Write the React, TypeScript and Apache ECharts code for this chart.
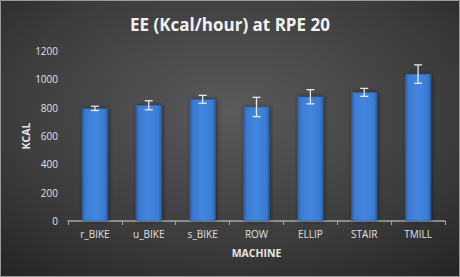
import React, { useEffect, useRef } from "react";
import * as echarts from "echarts";

const categories = ["r_BIKE", "u_BIKE", "s_BIKE", "ROW", "ELLIP", "STAIR", "TMILL"];
const values = [795, 817, 859, 805, 877, 908, 1037];
const errors = [15, 32, 28, 68, 50, 28, 65];
const yTicks = { min: 0, max: 1200, interval: 200 };

export default function App() {
  const ref = useRef<HTMLDivElement>(null);
  useEffect(() => {
    const chart = echarts.init(ref.current!, null, { renderer: "svg" });
    const font = "'Open Sans', 'Liberation Sans', sans-serif";
    chart.setOption({
      animation: false,
      backgroundColor: {
        type: "radial", x: 0.5, y: 0.4, r: 0.8,
        colorStops: [
          { offset: 0, color: "#5a5a5a" },
          { offset: 0.6, color: "#3c3c3c" },
          { offset: 1, color: "#222222" },
        ],
      },
      title: {
        text: "EE (Kcal/hour) at RPE 20",
        left: "center",
        top: 11,
        textStyle: { color: "#f2f2f2", fontSize: 17, fontWeight: "bold", fontFamily: font },
      },
      graphic: [
        {
          type: "rect",
          shape: { x: 0.5, y: 0.5, width: 459, height: 276 },
          style: { fill: "none", stroke: "#9a9a9a", lineWidth: 1 },
          silent: true,
        },
      ],
      grid: { left: 68, right: 15, top: 51, bottom: 56 },
      xAxis: {
        type: "category",
        data: categories,
        name: "MACHINE",
        nameLocation: "middle",
        nameGap: 26,
        nameTextStyle: { color: "#e6e6e6", fontSize: 10.5, fontWeight: "bold", fontFamily: font },
        axisLine: { lineStyle: { color: "#a6a6a6", width: 1.5 } },
        axisTick: { show: true, alignWithLabel: false, length: 4, inside: false, lineStyle: { color: "#a6a6a6" } },
        axisLabel: { color: "#e0e0e0", fontSize: 10, fontFamily: font, margin: 8 },
        splitLine: { show: false },
      },
      yAxis: {
        type: "value",
        min: yTicks.min,
        max: yTicks.max,
        interval: yTicks.interval,
        name: "KCAL",
        nameLocation: "middle",
        nameGap: 37,
        nameMoveOverlap: false,
        nameTextStyle: { color: "#e6e6e6", fontSize: 10.5, fontWeight: "bold", fontFamily: font },
        axisLine: { show: false },
        axisTick: { show: false },
        axisLabel: { color: "#e0e0e0", fontSize: 10, fontFamily: font, margin: 10, formatter: (v: number) => String(v) },
        splitLine: { show: false },
      },
      series: [
        {
          type: "bar",
          data: values,
          barWidth: "48%",
          itemStyle: {
            color: {
              type: "linear", x: 0, y: 0, x2: 1, y2: 0,
              colorStops: [
                { offset: 0, color: "#2a5ea6" },
                { offset: 0.12, color: "#3b7bd2" },
                { offset: 0.5, color: "#4386de" },
                { offset: 0.88, color: "#3b7bd2" },
                { offset: 1, color: "#2a5ea6" },
              ],
            },
            borderColor: "#2f66b3",
            borderWidth: 0.5,
            shadowColor: "rgba(0,0,0,0.5)",
            shadowBlur: 4,
            shadowOffsetX: 1,
          },
        },
        {
          type: "custom",
          data: values.map((v, i) => [i, v, errors[i]]),
          z: 10,
          renderItem: (params: any, api: any) => {
            const i = api.value(0);
            const v = api.value(1);
            const e = api.value(2);
            const top = api.coord([i, v + e]);
            const bot = api.coord([i, v - e]);
            const w = 4;
            const style = { stroke: "#e8e8e8", lineWidth: 1.3, fill: "none" };
            return {
              type: "group",
              children: [
                { type: "line", shape: { x1: top[0], y1: top[1], x2: bot[0], y2: bot[1] }, style },
                { type: "line", shape: { x1: top[0] - w, y1: top[1], x2: top[0] + w, y2: top[1] }, style },
                { type: "line", shape: { x1: bot[0] - w, y1: bot[1], x2: bot[0] + w, y2: bot[1] }, style },
              ],
            };
          },
        },
      ],
    });
    return () => chart.dispose();
  }, []);
  return (
    <div
      ref={ref}
      style={{ position: "absolute", left: 0, top: 0, width: 460, height: 277 }}
    />
  );
}
